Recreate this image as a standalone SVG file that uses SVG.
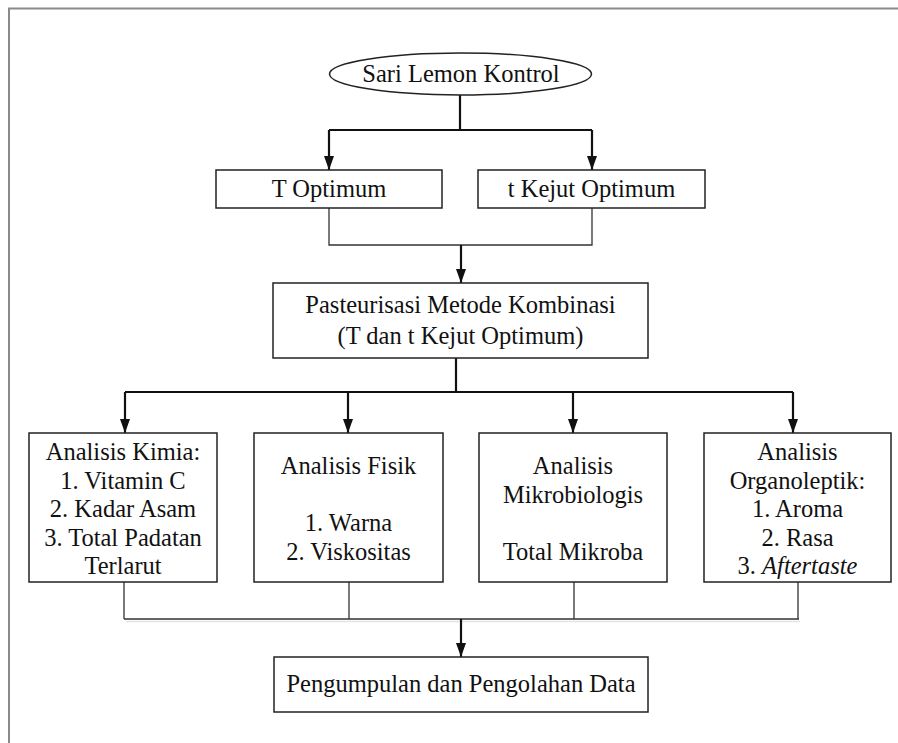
<svg xmlns="http://www.w3.org/2000/svg" width="898" height="743" viewBox="0 0 898 743">
<style>
.bx{fill:#fff;stroke:#222;stroke-width:1.5}
text{font-family:'Liberation Serif','Times New Roman',Times,serif;font-size:24.5px;fill:#111;text-anchor:middle}
.thick{fill:none;stroke:#111;stroke-width:2.2}
.thin{fill:none;stroke:#333;stroke-width:1.3}
.frame{fill:none;stroke:#8a8a8a;stroke-width:2}
</style>
<defs>
<marker id="ah" viewBox="0 0 14 10" markerWidth="14" markerHeight="10" refX="14" refY="5" orient="auto" markerUnits="userSpaceOnUse">
<path d="M0,0 L14,5 L0,10 z" fill="#111"/>
</marker>
</defs>
<rect width="898" height="743" fill="#fff"/>
<path class="frame" d="M9,743 V8.5 H898"/>
<g id="connectors">
<path class="thick" d="M460,95 V130 M329,130 H592"/>
<path class="thick" d="M329,130 V170" marker-end="url(#ah)"/>
<path class="thick" d="M592,130 V170" marker-end="url(#ah)"/>
<path class="thin" d="M329,208 V245 H592 V208"/>
<path class="thick" d="M461,245 V283" marker-end="url(#ah)"/>
<path class="thick" d="M456,358 V392 M125,392 H793"/>
<path class="thick" d="M125,392 V433" marker-end="url(#ah)"/>
<path class="thick" d="M348,392 V433" marker-end="url(#ah)"/>
<path class="thick" d="M573,392 V433" marker-end="url(#ah)"/>
<path class="thick" d="M793,392 V433" marker-end="url(#ah)"/>
<path class="thin" d="M124,582 V619 M349,582 V619 M574,582 V619 M798,582 V619 M124,619 H799"/>
<path d="M126,621.5 H800" stroke="#e4e4e4" stroke-width="1.5" fill="none"/>
<path class="thick" d="M461,619 V657" marker-end="url(#ah)"/>
</g>
<g id="start">
<ellipse cx="460.5" cy="74" rx="131" ry="21" class="bx"/>
<text x="461" y="82">Sari Lemon Kontrol</text>
</g>
<g id="t-optimum">
<rect x="216" y="170" width="226" height="38" class="bx"/>
<text x="329" y="197">T Optimum</text>
</g>
<g id="kejut-optimum">
<rect x="478" y="170" width="227" height="38" class="bx"/>
<text x="591.5" y="197">t Kejut Optimum</text>
</g>
<g id="pasteurisasi">
<rect x="273" y="283" width="375" height="75" class="bx"/>
<text x="460.5" y="313">Pasteurisasi Metode Kombinasi</text>
<text x="460.5" y="344">(T dan t Kejut Optimum)</text>
</g>
<g id="kimia">
<rect x="29" y="433" width="188" height="149" class="bx"/>
<text x="123" y="460">Analisis Kimia:</text>
<text x="123" y="488.5">1. Vitamin C</text>
<text x="123" y="517">2. Kadar Asam</text>
<text x="123" y="545.5">3. Total Padatan</text>
<text x="123" y="574">Terlarut</text>
</g>
<g id="fisik">
<rect x="254" y="433" width="189" height="149" class="bx"/>
<text x="348.5" y="474">Analisis Fisik</text>
<text x="348.5" y="531">1. Warna</text>
<text x="348.5" y="559.5">2. Viskositas</text>
</g>
<g id="mikro">
<rect x="479" y="433" width="188" height="149" class="bx"/>
<text x="573" y="474">Analisis</text>
<text x="573" y="502.5">Mikrobiologis</text>
<text x="573" y="559.5">Total Mikroba</text>
</g>
<g id="organo">
<rect x="704" y="433" width="187" height="149" class="bx"/>
<text x="797.5" y="460">Analisis</text>
<text x="797.5" y="488.5">Organoleptik:</text>
<text x="797.5" y="517">1. Aroma</text>
<text x="797.5" y="545.5">2. Rasa</text>
<text x="797.5" y="574">3. <tspan font-style="italic">Aftertaste</tspan></text>
</g>
<g id="data">
<rect x="274" y="657" width="374" height="55" class="bx"/>
<text x="461" y="692">Pengumpulan dan Pengolahan Data</text>
</g>
</svg>
